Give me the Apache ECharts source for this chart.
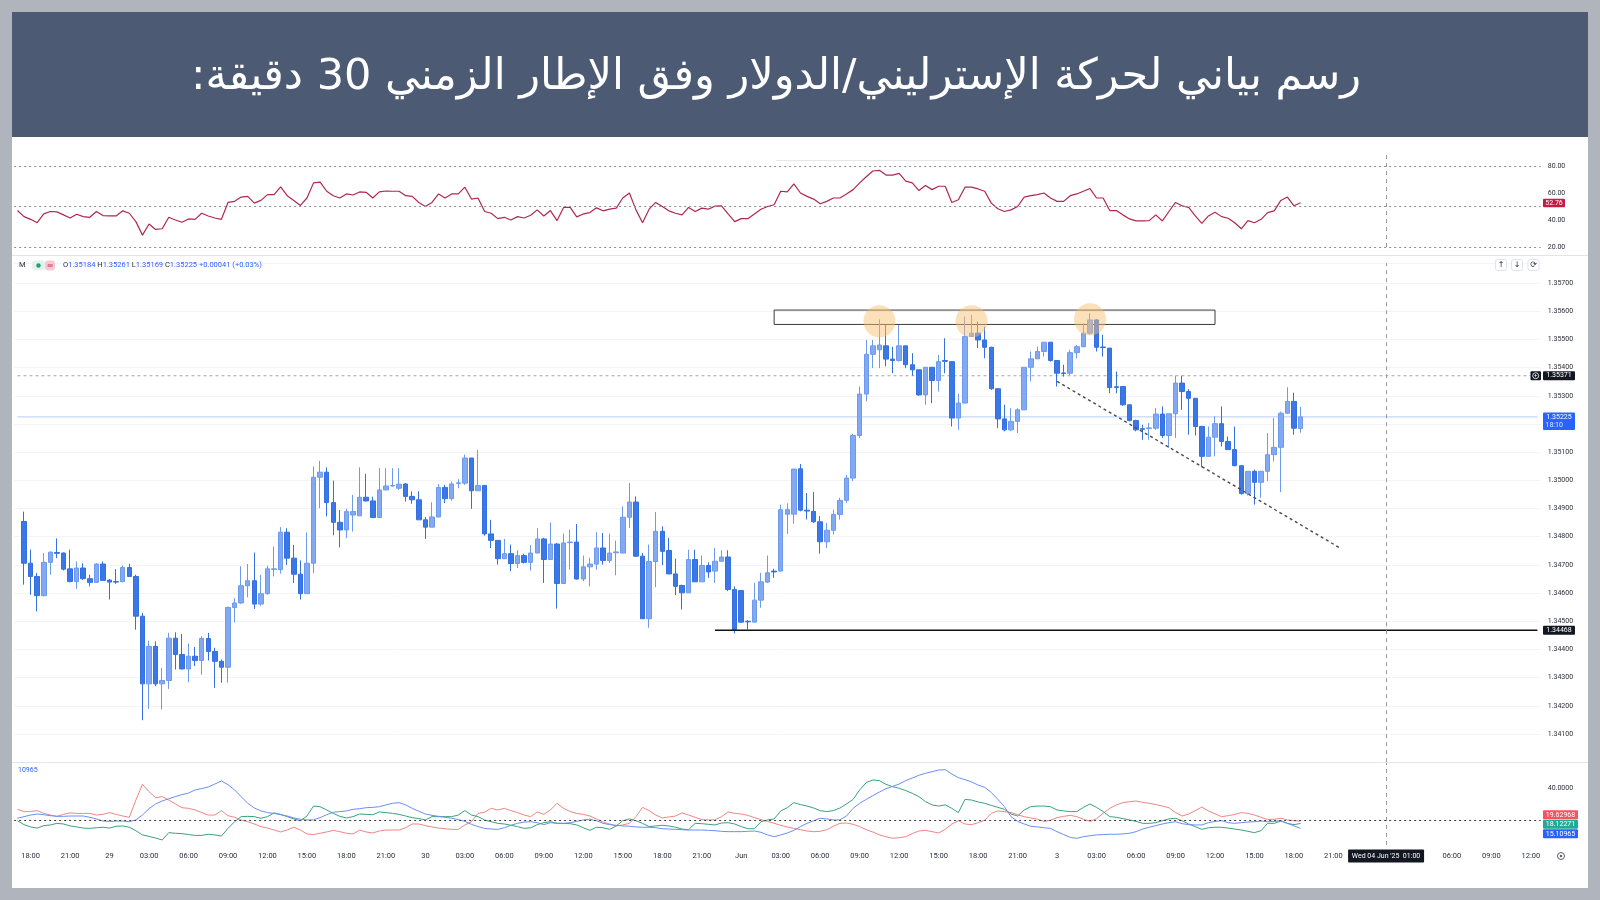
<!DOCTYPE html>
<html><head><meta charset="utf-8">
<script src="https://cdn.jsdelivr.net/npm/echarts@6/dist/echarts.min.js"></script>
<style>html,body{margin:0;padding:0;background:#b0b5bd;}#c{width:1600px;height:900px;}</style>
</head><body><div id="c"></div>
<script>
// ---------------- DATA ----------------
const titleText = 'رسم بياني لحركة الإسترليني/الدولار وفق الإطار الزمني 30 دقيقة:';
const slotCount = 232;           // 30-minute slots on the time axis (incl. empty future slots)
const cursorSlot = 208;          // Wed 04 Jun '25 01:00
const cursorText = "Wed 04 Jun '25  01:00";
const tickLabels = [[2,'18:00'],[8,'21:00'],[14,'29'],[20,'03:00'],[26,'06:00'],[32,'09:00'],[38,'12:00'],[44,'15:00'],[50,'18:00'],[56,'21:00'],[62,'30'],[68,'03:00'],[74,'06:00'],[80,'09:00'],[86,'12:00'],[92,'15:00'],[98,'18:00'],[104,'21:00'],[110,'Jun'],[116,'03:00'],[122,'06:00'],[128,'09:00'],[134,'12:00'],[140,'15:00'],[146,'18:00'],[152,'21:00'],[158,'3'],[164,'03:00'],[170,'06:00'],[176,'09:00'],[182,'12:00'],[188,'15:00'],[194,'18:00'],[200,'21:00'],[218,'06:00'],[224,'09:00'],[230,'12:00']];

// candles: [open, high, low, close]
const ohlc = [
null,
[1.34854,1.34889,1.34630,1.34706],[1.34706,1.34754,1.34594,1.34659],[1.34659,1.34671,1.34535,1.34591],[1.34591,1.34742,1.34588,1.34709],
[1.34709,1.34748,1.34665,1.34745],[1.34744,1.34794,1.34724,1.34741],[1.34742,1.34744,1.34680,1.34685],[1.34686,1.34754,1.34638,1.34641],
[1.34641,1.34712,1.34615,1.34689],[1.34689,1.34706,1.34647,1.34651],[1.34651,1.34665,1.34624,1.34638],[1.34638,1.34706,1.34636,1.34703],
[1.34703,1.34712,1.34643,1.34645],[1.34646,1.34650,1.34577,1.34639],[1.34641,1.34685,1.34633,1.34639],[1.34641,1.34697,1.34638,1.34691],
[1.34691,1.34704,1.34657,1.34659],[1.34659,1.34665,1.34470,1.34518],[1.34518,1.34529,1.34149,1.34278],[1.34278,1.34431,1.34189,1.34411],
[1.34411,1.34429,1.34270,1.34278],[1.34278,1.34335,1.34187,1.34290],[1.34290,1.34459,1.34260,1.34440],[1.34440,1.34461,1.34329,1.34382],
[1.34382,1.34455,1.34329,1.34331],[1.34331,1.34421,1.34284,1.34376],[1.34376,1.34409,1.34341,1.34361],[1.34361,1.34447,1.34311,1.34439],
[1.34439,1.34459,1.34361,1.34393],[1.34393,1.34406,1.34264,1.34358],[1.34358,1.34364,1.34282,1.34337],[1.34337,1.34552,1.34282,1.34549],
[1.34549,1.34582,1.34496,1.34565],[1.34565,1.34695,1.34562,1.34626],[1.34626,1.34703,1.34585,1.34644],[1.34644,1.34744,1.34544,1.34561],
[1.34561,1.34665,1.34555,1.34598],[1.34598,1.34697,1.34594,1.34686],[1.34684,1.34765,1.34659,1.34686],[1.34683,1.34834,1.34669,1.34816],
[1.34816,1.34830,1.34700,1.34724],[1.34724,1.34771,1.34636,1.34667],[1.34667,1.34716,1.34577,1.34598],[1.34598,1.34815,1.34598,1.34706],
[1.34706,1.35049,1.34671,1.35011],[1.35011,1.35069,1.34901,1.35029],[1.35029,1.35046,1.34872,1.34921],[1.34921,1.34999,1.34805,1.34851],
[1.34851,1.34895,1.34762,1.34824],[1.34824,1.34899,1.34795,1.34889],[1.34877,1.34948,1.34818,1.34889],[1.34874,1.35046,1.34874,1.34940],
[1.34940,1.35023,1.34925,1.34927],[1.34927,1.34942,1.34866,1.34868],[1.34868,1.35043,1.34866,1.34966],[1.34966,1.35043,1.34966,1.34980],
[1.34980,1.35043,1.34978,1.34981],[1.34972,1.35043,1.34966,1.34986],[1.34987,1.34990,1.34925,1.34943],[1.34943,1.34961,1.34917,1.34931],
[1.34931,1.34961,1.34860,1.34860],[1.34860,1.34870,1.34792,1.34834],[1.34834,1.34922,1.34834,1.34870],[1.34870,1.34987,1.34870,1.34975],
[1.34975,1.34984,1.34919,1.34935],[1.34935,1.34996,1.34928,1.34987],[1.34989,1.35004,1.34972,1.34991],[1.34990,1.35091,1.34984,1.35079],
[1.35079,1.35079,1.34899,1.34963],[1.34963,1.35108,1.34963,1.34982],[1.34982,1.34982,1.34804,1.34810],[1.34810,1.34860,1.34760,1.34787],
[1.34787,1.34787,1.34701,1.34722],[1.34722,1.34792,1.34722,1.34740],[1.34740,1.34772,1.34678,1.34705],[1.34705,1.34752,1.34689,1.34733],
[1.34733,1.34740,1.34705,1.34709],[1.34709,1.34770,1.34680,1.34742],[1.34742,1.34830,1.34742,1.34792],[1.34792,1.34796,1.34636,1.34719],
[1.34719,1.34851,1.34719,1.34774],[1.34774,1.34778,1.34545,1.34634],[1.34634,1.34811,1.34634,1.34778],[1.34779,1.34825,1.34683,1.34781],
[1.34781,1.34845,1.34648,1.34650],[1.34650,1.34733,1.34642,1.34693],[1.34693,1.34725,1.34624,1.34703],[1.34703,1.34816,1.34683,1.34760],
[1.34760,1.34813,1.34701,1.34716],[1.34716,1.34811,1.34707,1.34742],[1.34743,1.34786,1.34663,1.34746],[1.34742,1.34908,1.34742,1.34869],
[1.34869,1.34990,1.34831,1.34923],[1.34923,1.34943,1.34728,1.34731],[1.34731,1.34742,1.34509,1.34509],[1.34509,1.34772,1.34477,1.34712],
[1.34712,1.34888,1.34621,1.34819],[1.34819,1.34837,1.34699,1.34748],[1.34751,1.34796,1.34668,1.34668],[1.34668,1.34722,1.34593,1.34624],
[1.34627,1.34630,1.34542,1.34601],[1.34601,1.34754,1.34601,1.34719],[1.34719,1.34754,1.34640,1.34640],[1.34640,1.34733,1.34640,1.34698],
[1.34698,1.34709,1.34654,1.34675],[1.34678,1.34760,1.34636,1.34713],[1.34713,1.34752,1.34713,1.34728],[1.34728,1.34752,1.34607,1.34613],
[1.34613,1.34624,1.34457,1.34471],[1.34609,1.34609,1.34495,1.34497],[1.34500,1.34504,1.34471,1.34498],[1.34497,1.34636,1.34497,1.34575],
[1.34575,1.34672,1.34548,1.34640],[1.34639,1.34733,1.34636,1.34672],[1.34678,1.34686,1.34654,1.34675],[1.34678,1.34914,1.34678,1.34896],
[1.34880,1.34919,1.34810,1.34896],[1.34880,1.35040,1.34846,1.35040],[1.35041,1.35058,1.34890,1.34894],[1.34894,1.34955,1.34861,1.34891],
[1.34890,1.34959,1.34849,1.34853],[1.34853,1.34873,1.34740,1.34782],[1.34782,1.34849,1.34760,1.34823],[1.34823,1.34896,1.34808,1.34879],
[1.34879,1.34938,1.34861,1.34929],[1.34929,1.35020,1.34920,1.35008],[1.35008,1.35165,1.34997,1.35159],[1.35159,1.35333,1.35150,1.35306],
[1.35306,1.35498,1.35280,1.35447],[1.35447,1.35498,1.35398,1.35477],[1.35463,1.35571,1.35398,1.35480],[1.35477,1.35551,1.35404,1.35430],
[1.35430,1.35474,1.35380,1.35425],[1.35425,1.35551,1.35421,1.35477],[1.35477,1.35477,1.35398,1.35410],[1.35410,1.35451,1.35371,1.35392],
[1.35392,1.35392,1.35300,1.35303],[1.35303,1.35401,1.35268,1.35401],[1.35401,1.35401,1.35274,1.35354],[1.35354,1.35445,1.35315,1.35421],
[1.35425,1.35504,1.35380,1.35422],[1.35421,1.35421,1.35191,1.35221],[1.35221,1.35307,1.35179,1.35274],[1.35274,1.35581,1.35274,1.35510],
[1.35510,1.35587,1.35510,1.35522],[1.35522,1.35563,1.35469,1.35498],[1.35498,1.35545,1.35433,1.35472],[1.35472,1.35474,1.35321,1.35325],
[1.35325,1.35325,1.35185,1.35218],[1.35218,1.35268,1.35174,1.35179],[1.35179,1.35256,1.35174,1.35209],[1.35209,1.35256,1.35168,1.35250],
[1.35250,1.35401,1.35250,1.35401],[1.35401,1.35457,1.35351,1.35431],[1.35431,1.35474,1.35431,1.35457],[1.35457,1.35490,1.35439,1.35490],
[1.35490,1.35490,1.35421,1.35425],[1.35425,1.35425,1.35333,1.35380],[1.35381,1.35410,1.35368,1.35379],[1.35380,1.35463,1.35374,1.35453],
[1.35453,1.35480,1.35433,1.35474],[1.35474,1.35557,1.35472,1.35522],[1.35522,1.35593,1.35516,1.35569],[1.35569,1.35571,1.35457,1.35472],
[1.35473,1.35516,1.35439,1.35471],[1.35469,1.35469,1.35309,1.35329],[1.35332,1.35386,1.35309,1.35329],[1.35333,1.35333,1.35264,1.35268],
[1.35268,1.35268,1.35209,1.35212],[1.35212,1.35215,1.35174,1.35179],[1.35183,1.35197,1.35144,1.35181],[1.35184,1.35203,1.35144,1.35186],
[1.35185,1.35256,1.35179,1.35235],[1.35235,1.35262,1.35150,1.35159],[1.35159,1.35236,1.35115,1.35236],[1.35236,1.35371,1.35150,1.35345],
[1.35345,1.35371,1.35250,1.35315],[1.35315,1.35323,1.35162,1.35291],[1.35291,1.35291,1.35159,1.35191],[1.35191,1.35194,1.35047,1.35085],
[1.35085,1.35191,1.35083,1.35153],[1.35153,1.35227,1.35085,1.35201],[1.35201,1.35262,1.35120,1.35138],[1.35138,1.35156,1.35109,1.35109],
[1.35109,1.35191,1.35050,1.35052],[1.35052,1.35052,1.34949,1.34953],[1.34953,1.35032,1.34946,1.35032],[1.35032,1.35038,1.34914,1.34993],
[1.34993,1.35032,1.34938,1.35032],[1.35032,1.35168,1.34997,1.35091],[1.35091,1.35221,1.35067,1.35117],[1.35117,1.35244,1.34958,1.35238],
[1.35238,1.35330,1.35238,1.35280],[1.35280,1.35311,1.35162,1.35185],[1.35184,1.35261,1.35169,1.35225]
];

const rsi = [
47,42.5,40.5,38,44.5,46.3,46,43.8,41.5,44.3, 42.5,42,46.3,43.3,43,43,46.8,45,38.8,28.8,
37,33,33.5,42,40,38.3,40.8,40.5,45,43, 41.5,40.5,53,53.8,57,57.5,52.5,54.5,58.8,58.8,
64.5,58,54.5,50.8,56.3,67.5,68,61.3,58,56.3, 59.3,58.5,60.8,60.5,56.3,60.8,61.5,61.3,61.3,58,
57.5,53,50,53,59.3,56.3,59.3,59.3,64.3,55.5, 56.3,46.3,45,41,42,40,42.5,41.5,43.5,47.5,
43,47,39.5,49.3,49.3,42.3,44.5,45.5,49,46.8, 48,48.8,56.3,60,47.5,38,48,53,50,46.8,
45,43.8,49.3,46.3,48.8,48,50.3,50.5,44.5,38.8, 41,41,44.5,48,50,51.3,61.3,60.8,66.8,60,
57.5,55.5,52,53.8,56.3,56.3,59.3,62.5,67.5,72, 76.3,76.8,73.3,73.3,74.5,68.8,67.5,61.8,65.5,62.5,
65,65,53,55,64.3,64.3,63,61.3,52.5,48.3, 46.3,47.5,50,57,58,58.8,60,56.3,53.8,53.8,
58,59.3,61.3,63.3,56.3,56.3,47,47,43.8,40.8, 39.3,39.3,39.5,43.8,39.3,46.3,53,50.5,49.3,43,
37.5,43,45.8,42.5,41.3,38,33.5,39.5,38,40.5, 45.5,46.8,54.5,57,50.5,52.76
];

const minusDI = [
26.8,25.4,25.4,26.0,24.3,23.3,22.5,23.7,24.6,24.3, 24.3,24.3,23.3,23.7,24.8,23.7,22.7,21.9,32.5,42.1,
37.6,33.9,34.6,32.5,30.1,27.8,27.4,26.4,24.8,23.3, 23.3,26.0,22.9,21.9,20.3,19.2,17.8,16.2,15.3,14.1,
12.9,14.1,15.8,14.1,11.7,11.3,12.1,12.9,13.9,13.1, 12.1,11.7,14.1,12.9,12.3,13.5,14.1,14.1,14.1,15.5,
17.8,17.8,16.8,16.0,15.3,14.9,14.5,14.5,17.2,19.2, 24.3,25.0,27.4,26.4,27.4,26.0,24.8,23.3,22.3,25.2,
23.7,26.4,30.5,27.4,25.4,24.3,23.7,22.7,20.9,19.0, 17.8,16.6,17.2,18.2,22.3,28.0,26.0,23.3,21.5,22.1,
22.7,24.6,23.3,21.9,20.5,20.3,20.3,22.3,25.2,24.3, 23.9,23.1,21.7,20.5,19.4,18.2,17.0,16.0,15.1,14.3,
13.5,13.1,13.3,14.3,16.4,18.2,18.4,17.6,16.2,14.3, 12.9,11.1,10.0,9.0,9.4,10.0,11.9,13.5,13.9,13.1,
12.3,14.5,17.8,19.8,17.8,17.4,18.6,20.1,24.3,25.8, 25.4,24.8,23.5,22.3,21.5,20.7,19.4,20.1,21.7,22.5,
23.1,22.3,20.7,19.4,21.1,24.3,27.4,29.5,30.9,31.5, 31.9,31.1,30.5,29.7,28.8,27.8,24.8,22.7,23.9,26.0,
28.2,25.8,24.1,22.3,22.9,23.7,24.8,24.3,23.3,21.9, 20.5,20.7,21.3,20.3,19.8,19.62968
];

const plusDI = [
19.8,17.4,16.0,15.3,16.8,17.2,18.2,17.8,16.6,16.0, 15.3,15.1,15.5,15.8,15.3,16.4,16.6,15.8,13.7,11.1,
10.2,9.2,8.0,12.5,12.1,11.9,11.3,10.8,10.8,11.5, 11.1,10.4,15.1,19.2,22.3,22.5,22.3,21.3,22.3,24.6,
23.7,22.3,20.9,19.8,22.7,28.8,28.4,26.4,24.3,22.5, 21.5,22.3,23.9,23.7,23.5,25.2,24.8,24.3,23.7,22.7,
21.7,21.1,20.3,22.3,22.3,22.3,22.3,23.3,26.0,23.3, 22.3,20.3,19.2,18.2,17.8,17.0,16.2,15.1,15.5,17.4,
18.6,19.2,18.2,18.2,18.0,17.2,15.5,13.9,15.8,15.5, 14.5,16.6,19.8,20.9,19.8,18.2,16.2,16.6,17.0,16.6,
15.8,14.7,14.3,18.2,18.0,17.6,17.2,18.4,18.6,17.8, 16.2,14.9,14.9,19.2,20.3,20.9,25.8,27.8,30.9,29.7,
28.8,27.6,26.0,25.4,26.0,27.6,30.1,32.9,38.7,43.2, 44.8,44.4,42.1,40.7,39.7,38.3,36.6,34.6,31.5,29.5,
28.8,29.5,27.4,24.8,32.9,32.5,31.3,30.5,29.2,28.0, 26.8,23.9,22.7,26.4,28.4,28.8,28.8,28.4,26.4,25.8,
25.4,25.4,28.0,30.1,28.0,25.4,22.3,21.9,21.1,20.3, 19.4,18.2,18.2,18.6,19.8,20.9,21.3,19.8,17.8,16.2,
14.5,15.5,15.8,15.8,15.3,14.7,14.1,13.3,12.5,13.7, 18.2,18.2,19.6,18.2,17.4,18.12271
];

const adx = [
21.3,22.3,23.3,23.9,23.5,22.9,22.5,22.5,22.7,22.7, 22.7,21.9,20.9,19.6,19.4,19.6,19.6,19.2,20.3,23.3,
27.2,30.1,31.9,33.3,34.6,35.8,36.8,38.7,39.5,40.5, 42.3,44.2,41.9,38.7,34.6,30.5,27.6,25.8,24.8,24.3,
23.5,22.7,21.5,20.7,20.3,20.3,21.7,23.5,25.0,25.4, 25.8,26.8,27.2,27.8,28.0,28.4,29.5,30.5,30.9,29.5,
27.4,25.6,23.9,23.1,22.5,21.9,21.3,20.5,19.4,17.6, 16.2,15.1,14.7,14.5,15.5,17.0,18.2,19.0,19.2,18.6,
17.4,18.6,18.2,18.2,18.6,19.4,20.3,20.7,19.8,18.2, 17.4,17.0,16.6,16.4,16.0,15.8,15.8,15.5,14.9,14.7,
14.5,14.3,14.1,14.1,14.1,13.9,13.7,13.3,13.1,13.1, 13.1,13.3,13.5,12.7,11.1,10.0,11.1,12.3,13.9,16.2,
18.2,19.8,21.3,20.9,20.3,20.3,22.7,27.4,30.5,32.9, 35.2,37.4,39.5,40.9,42.3,44.4,46.0,47.7,48.9,49.9,
50.9,51.1,48.5,46.2,45.0,43.6,41.7,40.3,37.2,32.9, 28.4,22.3,19.4,17.8,16.4,16.0,15.5,15.1,13.1,11.3,
9.6,9.0,10.0,10.6,11.1,11.3,11.5,11.5,11.7,12.1, 13.1,14.7,15.8,16.8,17.8,18.6,19.2,18.0,17.4,17.2,
17.2,18.6,19.4,19.8,18.6,18.2,18.6,19.0,19.2,19.6, 19.2,19.4,19.8,18.2,16.6,15.10965
];

const rangeBox = {from: 115, to: 182, top: 1.35604, bottom: 1.35553};
const peakMarks = [[131, 1.35564], [145, 1.35564], [163, 1.35571]];
const trendLine = [[158, 1.35351], [201, 1.34760]];
const supportLine = [[106, 1.34468], [231, 1.34468]];
const levels = {resistance: 1.35371, last: 1.35225, support: 1.34468};
const legendText = {o: '1.35184', h: '1.35261', l: '1.35169', c: '1.35225', chg: '+0.00041 (+0.03%)'};
const dmiTitle = '10965';

// ---------------- BUILD ----------------
const categories = [];
for (let i = 0; i < slotCount; i++) {
  const m = 17 * 60 + 30 * i + (i >= 110 ? 48 * 60 : 0);
  const d = 28 + Math.floor(m / 1440);
  const hh = String(Math.floor((m % 1440) / 60)).padStart(2, '0');
  const mm = String(m % 60).padStart(2, '0');
  categories.push((d > 31 ? 'Jun ' + (d - 31) : 'May ' + d) + ' ' + hh + ':' + mm);
}
const lastSlot = slotCount - 1;
const tickMap = new Map(tickLabels);
const FONT = 'Roboto, "DejaVu Sans", sans-serif';
const GL = 14.15, GW = 1526.56;

function xAxisFor(gi, labels) {
  return {
    type: 'category', gridIndex: gi, data: categories, boundaryGap: true,
    axisLine: {show: false}, axisTick: {show: false}, splitLine: {show: false},
    axisLabel: labels ? {
      interval: (idx) => tickMap.has(idx),
      formatter: (v, idx) => tickMap.get(idx) || '',
      fontSize: 7.5, color: '#2a2e39', fontFamily: FONT, margin: 7
    } : {show: false}
  };
}
const cursorLine = {xAxis: categories[cursorSlot], lineStyle: {color: '#9598a1', type: [4, 4], width: 1}};
const flat = (v) => [[0, v], [lastSlot, v]];

const option = {
  backgroundColor: '#ffffff',
  animation: false,
  grid: [
    {left: GL, width: GW, top: 152.5, height: 94.5},
    {left: GL, width: GW, top: 263.27, height: 498.96},
    {left: GL, width: GW, top: 762, height: 83}
  ],
  xAxis: [xAxisFor(0, false), xAxisFor(1, false), xAxisFor(2, true)],
  yAxis: [
    {type: 'value', gridIndex: 0, position: 'right', min: 20, max: 90, interval: 20,
     axisLine: {show: false}, axisTick: {show: false}, splitLine: {show: false},
     axisLabel: {showMaxLabel: false, formatter: v => v.toFixed(2), fontSize: 7, color: '#2a2e39', fontFamily: FONT, margin: 7}},
    {type: 'value', gridIndex: 1, position: 'right', min: 1.340, max: 1.3577, interval: 0.001, scale: true,
     axisLine: {show: false}, axisTick: {show: false},
     splitLine: {show: true, lineStyle: {color: '#f3f4f7'}},
     axisLabel: {showMinLabel: false, showMaxLabel: false, formatter: v => v.toFixed(5), fontSize: 7, color: '#2a2e39', fontFamily: FONT, margin: 7}},
    {type: 'value', gridIndex: 2, position: 'right', min: 4.91, max: 55.83,
     axisLine: {show: false}, axisTick: {show: false}, splitLine: {show: false},
     axisLabel: {customValues: [40], formatter: v => v.toFixed(4), fontSize: 7, color: '#2a2e39', fontFamily: FONT, margin: 7}}
  ],
  series: [
    {type: 'line', name: 'RSI', xAxisIndex: 0, yAxisIndex: 0, data: rsi, symbol: 'none',
     lineStyle: {color: '#b0284f', width: 1.2}, z: 3,
     markLine: {silent: true, symbol: 'none', label: {show: false},
       data: [
         {yAxis: 80, lineStyle: {color: '#8a8d96', type: [2, 3], width: 1}},
         {yAxis: 50, lineStyle: {color: '#8a8d96', type: [2, 3], width: 1}},
         {yAxis: 20, lineStyle: {color: '#8a8d96', type: [2, 3], width: 1}},
         cursorLine
       ]}},
    {type: 'line', name: 'resistance', xAxisIndex: 1, yAxisIndex: 1, data: flat(levels.resistance), symbol: 'none',
     lineStyle: {color: '#a3a6af', width: 1, type: [3, 3]}, z: 1},
    {type: 'line', name: 'last', xAxisIndex: 1, yAxisIndex: 1, data: flat(levels.last), symbol: 'none',
     lineStyle: {color: '#b9cdf6', width: 1}, z: 1},
    {type: 'candlestick', name: 'GBPUSD', xAxisIndex: 1, yAxisIndex: 1, barWidth: 5, z: 2,
     data: ohlc.map(r => r ? [r[0], r[3], r[2], r[1]] : '-'),
     itemStyle: {color: '#82a9f2', borderColor: '#6e9aee', color0: '#3b78e7', borderColor0: '#3570e0', borderWidth: 1},
     markLine: {silent: true, symbol: 'none', label: {show: false}, data: [cursorLine]},
     markArea: {silent: true,
       itemStyle: {color: 'rgba(255,255,255,0)', borderColor: '#3a3a3a', borderWidth: 1},
       data: [[{coord: [rangeBox.from, rangeBox.top]}, {coord: [rangeBox.to, rangeBox.bottom]}]]}},
    {type: 'line', name: 'support', xAxisIndex: 1, yAxisIndex: 1, data: supportLine, symbol: 'none',
     lineStyle: {color: '#111', width: 1.5}, z: 4},
    {type: 'line', name: 'trend', xAxisIndex: 1, yAxisIndex: 1, data: trendLine, symbol: 'none',
     lineStyle: {color: '#4a4a4a', width: 1.4, type: [3, 3]}, z: 4},
    {type: 'scatter', name: 'peaks', xAxisIndex: 1, yAxisIndex: 1, data: peakMarks, symbolSize: 32,
     itemStyle: {color: 'rgba(246,190,110,0.6)'}, z: 5},
    {type: 'line', name: '-DI', xAxisIndex: 2, yAxisIndex: 2, data: minusDI, symbol: 'none',
     lineStyle: {color: '#f08585', width: 1}, z: 3,
     markLine: {silent: true, symbol: 'none', label: {show: false},
       data: [{yAxis: 20, lineStyle: {color: '#3a3d45', type: [2, 3], width: 1}}, cursorLine]}},
    {type: 'line', name: '+DI', xAxisIndex: 2, yAxisIndex: 2, data: plusDI, symbol: 'none',
     lineStyle: {color: '#3aa27c', width: 1}, z: 3},
    {type: 'line', name: 'ADX', xAxisIndex: 2, yAxisIndex: 2, data: adx, symbol: 'none',
     lineStyle: {color: '#6c8ef4', width: 1}, z: 3}
  ]
};

const chart = echarts.init(document.getElementById('c'));
chart.setOption(option);

// ---------------- OVERLAY (frame, title, tags) ----------------
const px = (g, x, y) => chart.convertToPixel({gridIndex: g}, [x, y]);
const els = [];
function rect(x, y, w, h, fill, extra) { els.push({type: 'rect', shape: {x, y, width: w, height: h, r: (extra && extra.r) || 0}, style: Object.assign({fill}, (extra && extra.style) || {}), z: 100, silent: true}); }
function text(x, y, t, font, fill, align, valign, extra) {
  els.push({type: 'text', z: 101, silent: true,
    style: Object.assign({text: t, x, y, font, fill, textAlign: align || 'left', textVerticalAlign: valign || 'middle', align: align || 'left', verticalAlign: valign || 'middle'}, extra || {})});
}
function line(x1, y1, x2, y2, stroke, lw, dash) {
  els.push({type: 'line', z: 99, silent: true, shape: {x1, y1, x2, y2}, style: {stroke, lineWidth: lw || 1, lineDash: dash || null}});
}

// frame + header
rect(0, 0, 1600, 12, '#b0b5bd');
rect(0, 0, 12, 900, '#b0b5bd');
rect(1588, 0, 12, 900, '#b0b5bd');
rect(0, 888, 1600, 12, '#b0b5bd');
rect(12, 12, 1576, 125, '#4c5a74');
text(776, 78, '\u202B' + titleText + '\u202C', '43px "DejaVu Sans"', '#ffffff', 'center', 'middle');

// pane separators
line(12, 255.5, 1588, 255.5, '#e3e5ea', 1);
line(12, 762.5, 1588, 762.5, '#e3e5ea', 1);
line(776, 160.5, 1262, 160.5, '#e6e7ea', 1);

// main legend
text(19, 265.5, 'M', '7.5px ' + FONT, '#2a2e39', 'left', 'middle');
rect(32, 260.5, 13, 10, '#e3f2ec', {r: 3});
els.push({type: 'circle', z: 102, silent: true, shape: {cx: 38.5, cy: 265.5, r: 2.2}, style: {fill: '#1f9e6e'}});
rect(45, 260.5, 10, 10, '#f6c9d3', {r: 3});
text(50, 265.5, '≡', '8px "DejaVu Sans"', '#d6335e', 'center', 'middle');
text(63, 265.5, '{k|O}{v|' + legendText.o + '} {k|H}{v|' + legendText.h + '} {k|L}{v|' + legendText.l + '} {k|C}{v|' + legendText.c + '} {v|' + legendText.chg + '}',
  '7.5px ' + FONT, '#2a2e39', 'left', 'middle',
  {rich: {k: {fill: '#2a2e39', font: '7.5px ' + FONT}, v: {fill: '#2962ff', font: '7.5px ' + FONT}}});
text(18, 770.5, dmiTitle, '7px ' + FONT, '#2962ff', 'left', 'middle');

// toolbar buttons
[['↑', 1501], ['↓', 1517], ['⟳', 1533.5]].forEach(([s, x]) => {
  rect(x - 5.5, 259.5, 11, 11, '#ffffff', {r: 2, style: {stroke: '#e0e3eb', lineWidth: 1}});
  text(x, 265, s, '8px "DejaVu Sans"', '#2a2e39', 'center', 'middle');
});
// settings glyph at bottom right
els.push({type: 'circle', z: 101, silent: true, shape: {cx: 1561, cy: 856, r: 3.5}, style: {fill: 'none', stroke: '#5d606b', lineWidth: 1}});
els.push({type: 'circle', z: 101, silent: true, shape: {cx: 1561, cy: 856, r: 1.2}, style: {fill: '#5d606b'}});

// right-axis value tags
const TX = 1543, TW = 32;
function tagBox(yc, h, bg, lines, fg) {
  rect(TX, yc - h / 2, TW, h, bg, {r: 1});
  lines.forEach((ln, k) => text(TX + TW / 2, yc - h / 2 + 4.5 + k * 8.5, ln.t, (ln.b ? 'bold ' : '') + '7px ' + FONT, ln.c || fg, 'center', 'middle'));
}
const yRes = px(1, 0, levels.resistance)[1];
rect(1530.5, yRes - 4.5, 10.5, 9, '#131722', {r: 1});
els.push({type: 'circle', z: 102, silent: true, shape: {cx: 1535.7, cy: yRes, r: 3}, style: {fill: 'none', stroke: '#fff', lineWidth: 0.8}});
text(1535.7, yRes, '+', '6px ' + FONT, '#ffffff', 'center', 'middle');
tagBox(yRes, 9, '#131722', [{t: levels.resistance.toFixed(5)}], '#ffffff');
const yLast = px(1, 0, levels.last)[1];
rect(TX, yLast - 4.5, TW, 17.5, '#2962ff', {r: 1});
text(TX + TW / 2, yLast, levels.last.toFixed(5), '7px ' + FONT, '#ffffff', 'center', 'middle');
text(TX + 2.5, yLast + 8.5, '18:10', '7px ' + FONT, '#dfe7ff', 'left', 'middle');
const ySup = px(1, 0, levels.support)[1];
tagBox(ySup, 9, '#131722', [{t: levels.support.toFixed(5)}], '#ffffff');
const yR = px(0, 0, rsi[rsi.length - 1])[1];
rect(TX, yR - 4, 22, 8.5, '#c21d45', {r: 1});
text(TX + 11, yR, rsi[rsi.length - 1].toFixed(2), '7px ' + FONT, '#ffffff', 'center', 'middle');

// DMI tags, spread so they do not overlap
const dmiTags = [
  {v: minusDI[minusDI.length - 1], bg: '#f7525f', d: 5},
  {v: plusDI[plusDI.length - 1], bg: '#22ab94', d: 5},
  {v: adx[adx.length - 1], bg: '#2962ff', d: 5}
].map(t => Object.assign(t, {y: px(2, 0, t.v)[1]})).sort((a, b) => a.y - b.y);
const mean = dmiTags.reduce((s, t) => s + t.y, 0) / dmiTags.length;
dmiTags.forEach((t, k) => {
  const yc = mean + (k - (dmiTags.length - 1) / 2) * 9.5;
  rect(TX, yc - 4.5, 35, 9, t.bg, {r: 1});
  text(TX + 17.5, yc, t.v.toFixed(t.d), '7px ' + FONT, '#ffffff', 'center', 'middle');
});

// cursor time tag
const xc = px(2, cursorSlot, 20)[0];
rect(xc - 38, 849.5, 76, 13, '#131722', {r: 1});
text(xc, 856, cursorText, '7px ' + FONT, '#ffffff', 'center', 'middle');

chart.setOption({graphic: {elements: els}});
</script></body></html>
